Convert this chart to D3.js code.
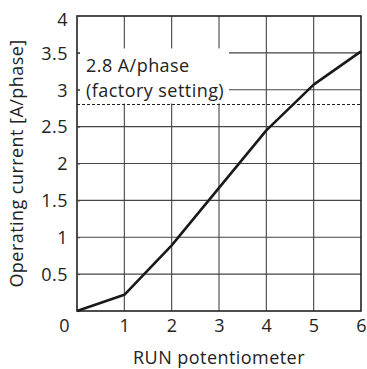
<!DOCTYPE html>
<html><head><meta charset="utf-8">
<script src="https://cdn.jsdelivr.net/npm/d3@7"></script>
<style>html,body{margin:0;padding:0;background:#fff}svg{display:block}</style>
</head><body>
<script>
const runSetting = [0, 1, 2, 3, 4, 5, 6];
const currentA = [0, 0.22, 0.89, 1.67, 2.45, 3.07, 3.52];
const xTicks = [0, 1, 2, 3, 4, 5, 6];
const yTicks = [0.5, 1, 1.5, 2, 2.5, 3, 3.5, 4];
const factorySetting = 2.8;
const noteLines = ["2.8 A/phase", "(factory setting)"];
const xTitle = "RUN potentiometer";
const yTitle = "Operating current [A/phase]";

const W = 367, H = 369;
const m = {l: 77, t: 16, r: 6, b: 58};
const font = "'Open Sans', sans-serif";
const fs = 18;
const ls = "0.45px";
const svg = d3.select("body").append("svg").attr("width", W).attr("height", H);
const x = d3.scaleLinear().domain([0, 6]).range([m.l, W - m.r]);
const y = d3.scaleLinear().domain([0, 4]).range([H - m.b, m.t]);

function styleText(sel) {
  return sel.attr("font-family", font).attr("font-size", fs).attr("fill", "#222")
    .attr("letter-spacing", ls);
}

// grid
const g = svg.append("g");
g.selectAll(".vg").data(xTicks.slice(1, -1)).join("line")
  .attr("x1", d => x(d)).attr("x2", d => x(d)).attr("y1", y(0)).attr("y2", y(4))
  .attr("stroke", "#444").attr("stroke-width", 1.1);
g.selectAll(".hg").data(yTicks.slice(0, -1)).join("line")
  .attr("x1", x(0)).attr("x2", x(6)).attr("y1", d => y(d)).attr("y2", d => y(d))
  .attr("stroke", "#444").attr("stroke-width", 1.1);

// white box behind note
svg.append("rect").attr("x", x(0) + 3).attr("y", y(3.56)).attr("width", 149)
  .attr("height", y(factorySetting) - y(3.56) - 1).attr("fill", "#fff");

// dashed line
svg.append("line").attr("x1", x(0)).attr("x2", x(6))
  .attr("y1", y(factorySetting)).attr("y2", y(factorySetting))
  .attr("stroke", "#222").attr("stroke-width", 1.2).attr("stroke-dasharray", "3,2");

// note text
styleText(svg.selectAll(".note").data(noteLines).join("text")
  .attr("x", x(0) + 9).attr("y", (d, i) => 72 + i * 25))
  .text(d => d);

// frame
svg.append("rect").attr("x", x(0)).attr("y", y(4)).attr("width", x(6) - x(0))
  .attr("height", y(0) - y(4)).attr("fill", "none").attr("stroke", "#222").attr("stroke-width", 1.6);

// curve
const line = d3.line().x((d, i) => x(runSetting[i])).y(d => y(d));
svg.append("path").datum(currentA).attr("d", line)
  .attr("fill", "none").attr("stroke", "#1a1a1a").attr("stroke-width", 2.6)
  .attr("stroke-linejoin", "round");

// axes
const xAxis = svg.append("g").attr("transform", `translate(0,${y(0)})`)
  .call(d3.axisBottom(x).tickValues(xTicks).tickSize(0).tickPadding(8).tickFormat(d3.format("d")));
xAxis.select(".domain").remove();
styleText(xAxis.selectAll("text")).attr("dx", d => d === 0 ? -13 : 0);

const yAxis = svg.append("g").attr("transform", `translate(${x(0)},0)`)
  .call(d3.axisLeft(y).tickValues(yTicks).tickSize(3).tickPadding(6).tickFormat(d => String(d)));
yAxis.select(".domain").remove();
yAxis.selectAll("line").attr("x2", 3).attr("stroke", "#444");
styleText(yAxis.selectAll("text")).attr("dy", d => d === 4 ? "0.5em" : "0.35em");

// titles
styleText(svg.append("text").attr("x", x(3)).attr("y", 364).attr("text-anchor", "middle")).text(xTitle);
styleText(svg.append("text").attr("transform", `translate(23,${(y(0) + y(4)) / 2}) rotate(-90)`)
  .attr("text-anchor", "middle")).text(yTitle);
</script>
</body></html>
